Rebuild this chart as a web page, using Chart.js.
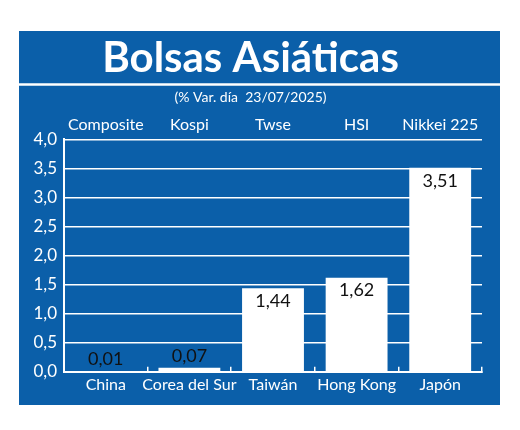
<!DOCTYPE html>
<html>
<head>
<meta charset="utf-8">
<script src="https://cdn.jsdelivr.net/npm/chart.js@4.4.1/dist/chart.umd.min.js"></script>
<style>
  html, body { margin: 0; padding: 0; background: #fff; }
  #panel {
    position: absolute; left: 19px; top: 31px;
    width: 481px; height: 374px; background: #0b5fa9;
  }
</style>
</head>
<body>
<div id="panel"><canvas id="chart"></canvas></div>
<script>
// ── Datos ─────────────────────────────
const paises = ['China', 'Corea del Sur', 'Taiwán', 'Hong Kong', 'Japón'];
const indices = ['Composite', 'Kospi', 'Twse', 'HSI', 'Nikkei 225'];
const variacion = [0.01, 0.07, 1.44, 1.62, 3.51];

const AZUL = '#0b5fa9';
const BLANCO = '#ffffff';
const FUENTE = "Lato, 'Open Sans', sans-serif";

const coma = (v, d) => v.toFixed(d).replace('.', ',');

// línea blanca bajo el título
const separador = {
  id: 'separador',
  afterDraw(chart) {
    const ctx = chart.ctx;
    ctx.save();
    ctx.strokeStyle = BLANCO;
    ctx.lineWidth = 2.5;
    ctx.beginPath();
    ctx.moveTo(0, 53.5);
    ctx.lineTo(chart.width, 53.5);
    ctx.stroke();
    ctx.restore();
  },
};

// valores sobre / dentro de cada barra
const etiquetas = {
  id: 'etiquetas',
  afterDatasetsDraw(chart) {
    const ctx = chart.ctx;
    const meta = chart.getDatasetMeta(0);
    ctx.save();
    ctx.fillStyle = '#111';
    ctx.font = `18px ${FUENTE}`;
    ctx.textAlign = 'center';
    meta.data.forEach((bar, i) => {
      const alto = bar.base - bar.y;
      if (alto > 25) {
        ctx.textBaseline = 'top';
        ctx.fillText(coma(variacion[i], 2), bar.x, bar.y + 4);
      } else {
        ctx.textBaseline = 'alphabetic';
        ctx.fillText(coma(variacion[i], 2), bar.x, bar.y - 6);
      }
    });
    ctx.restore();
  },
};

new Chart(document.getElementById('chart'), {
  type: 'bar',
  data: {
    labels: paises,
    datasets: [{
      data: variacion,
      backgroundColor: BLANCO,
      borderWidth: 0,
      barPercentage: 0.74,
      categoryPercentage: 1,
    }],
  },
  options: {
    responsive: true,
    maintainAspectRatio: false,
    animation: false,
    layout: { padding: { left: 0, right: 18, top: 0, bottom: 3 } },
    plugins: {
      legend: { display: false },
      tooltip: { enabled: false },
      title: {
        display: true,
        text: 'Bolsas Asiáticas',
        color: BLANCO,
        font: { family: FUENTE, size: 42, weight: 'bold' },
        padding: { top: 2, bottom: 4 },
      },
      subtitle: {
        display: true,
        text: '(% Var. día  23/07/2025)',
        color: BLANCO,
        font: { family: FUENTE, size: 14 },
        padding: { top: 2, bottom: 4 },
      },
    },
    scales: {
      x: {
        position: 'bottom',
        grid: { display: true, drawOnChartArea: false, drawTicks: true, tickLength: -5, color: BLANCO, lineWidth: 1.5 },
        border: { display: true, color: BLANCO, width: 2 },
        ticks: { color: BLANCO, font: { family: FUENTE, size: 16 }, padding: 8, maxRotation: 0, autoSkip: false },
      },
      x2: {
        type: 'category',
        position: 'top',
        labels: indices,
        offset: true,
        grid: { display: false, drawTicks: false },
        border: { display: false },
        ticks: { color: BLANCO, font: { family: FUENTE, size: 16 }, padding: 5, maxRotation: 0, autoSkip: false },
      },
      y: {
        min: 0,
        max: 4,
        afterFit(scale) { scale.width = 45; },
        grid: { color: BLANCO, lineWidth: 1.5, drawTicks: false },
        border: { display: true, color: BLANCO, width: 2 },
        ticks: {
          stepSize: 0.5,
          color: BLANCO,
          font: { family: FUENTE, size: 17 },
          padding: 7,
          callback: (v) => coma(v, 1),
        },
      },
    },
  },
  plugins: [separador, etiquetas],
});
</script>
</body>
</html>
